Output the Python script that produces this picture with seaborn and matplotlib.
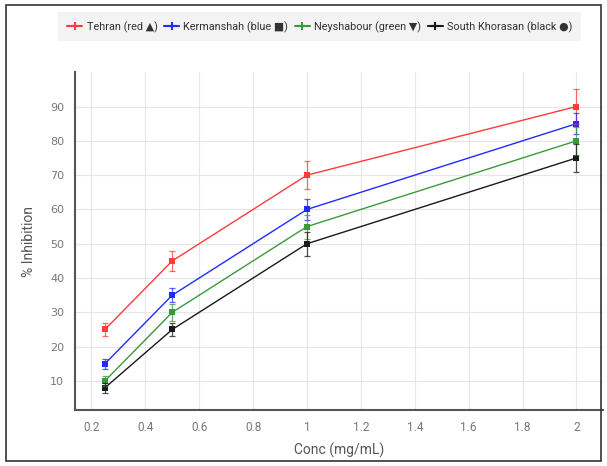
import pandas as pd
import matplotlib
matplotlib.use("Agg")
import matplotlib.pyplot as plt
import seaborn as sns
from matplotlib.patches import Rectangle

# data
conc = [0.25, 0.5, 1, 2]
tehran = [25, 45, 70, 90]
tehran_err = [2, 3, 4, 5]
kermanshah = [15, 35, 60, 85]
kermanshah_err = [1.5, 2, 3, 3]
neyshabour = [10, 30, 55, 80]
neyshabour_err = [1.5, 2.5, 3.5, 4]
south_khorasan = [8, 25, 50, 75]
south_khorasan_err = [1.5, 2, 3.5, 4]

labels = [
    "Tehran (red \u25b2)",
    "Kermanshah (blue \u25a0)",
    "Neyshabour (green \u25bc)",
    "South Khorasan (black \u25cf)",
]
x_ticks = [0.2, 0.4, 0.6, 0.8, 1.0, 1.2, 1.4, 1.6, 1.8, 2.0]
x_tick_labels = ["0.2", "0.4", "0.6", "0.8", "1", "1.2", "1.4", "1.6", "1.8", "2"]
y_ticks = [10, 20, 30, 40, 50, 60, 70, 80, 90]

colors = ["#ff3b3b", "#1f2cff", "#3a9a3a", "#1a1a1a"]

values = [tehran, kermanshah, neyshabour, south_khorasan]
errors = [tehran_err, kermanshah_err, neyshabour_err, south_khorasan_err]

rows = []
for lab, vals, errs in zip(labels, values, errors):
    for c, v, e in zip(conc, vals, errs):
        rows.append({"conc": c, "inhibition": v, "err": e, "site": lab})
df = pd.DataFrame(rows)

sns.set_theme(style="whitegrid")
plt.rcParams["font.family"] = ["Roboto", "DejaVu Sans"]

fig = plt.figure(figsize=(6.07, 4.66), dpi=100)
ax = fig.add_axes([0.124, 0.12, 0.87, 0.725])

sns.lineplot(
    data=df, x="conc", y="inhibition", hue="site",
    palette=colors, marker="s", markersize=4, markeredgewidth=0,
    linewidth=1.0, ax=ax, legend=False,
)

for (lab, sub), col in zip(df.groupby("site", sort=False), colors):
    ax.errorbar(
        sub["conc"], sub["inhibition"], yerr=sub["err"],
        fmt="none", ecolor=col, elinewidth=0.9, capsize=2.5, capthick=0.9,
        alpha=0.75,
    )

ax.set_xlim(0.14, 2.1)
ax.set_ylim(1.5, 100)
ax.set_xticks(x_ticks)
ax.set_xticklabels(x_tick_labels)
ax.set_yticks(y_ticks)

ax.tick_params(axis="both", labelsize=8.5, colors="#777777", length=0, pad=8)
for lbl in ax.get_yticklabels():
    lbl.set_fontfamily(["DejaVu Sans"])
    lbl.set_fontsize(8)

ax.grid(color="#e6e6e6", linewidth=0.8)
for side in ["top", "right"]:
    ax.spines[side].set_visible(False)
for side in ["left", "bottom"]:
    ax.spines[side].set_color("#555555")
    ax.spines[side].set_linewidth(1.5)

ax.set_xlabel("Conc (mg/mL)", fontsize=10, color="#555555", labelpad=6)
ax.set_ylabel("% Inhibition", fontsize=10, color="#555555", labelpad=10)

handles = [
    plt.Line2D([], [], color=col, marker="+", markersize=6, markeredgewidth=1.5, linewidth=1.5)
    for col in colors
]
leg = fig.legend(
    handles, labels, loc="upper center", bbox_to_anchor=(0.527, 0.985),
    ncol=4, frameon=True, fontsize=7.8, handlelength=1.4, handletextpad=0.4,
    columnspacing=0.6, borderpad=0.8,
)
leg.get_frame().set_facecolor("#f1f1f1")
leg.get_frame().set_edgecolor("none")
leg.get_frame().set_boxstyle("square", pad=0.0)
for t in leg.get_texts():
    t.set_color("#333333")

fig.patches.append(Rectangle((0.01, 0.01), 0.98, 0.98, transform=fig.transFigure,
                             fill=False, edgecolor="#333333", linewidth=1.2))

fig.savefig("out.png", dpi=100)
